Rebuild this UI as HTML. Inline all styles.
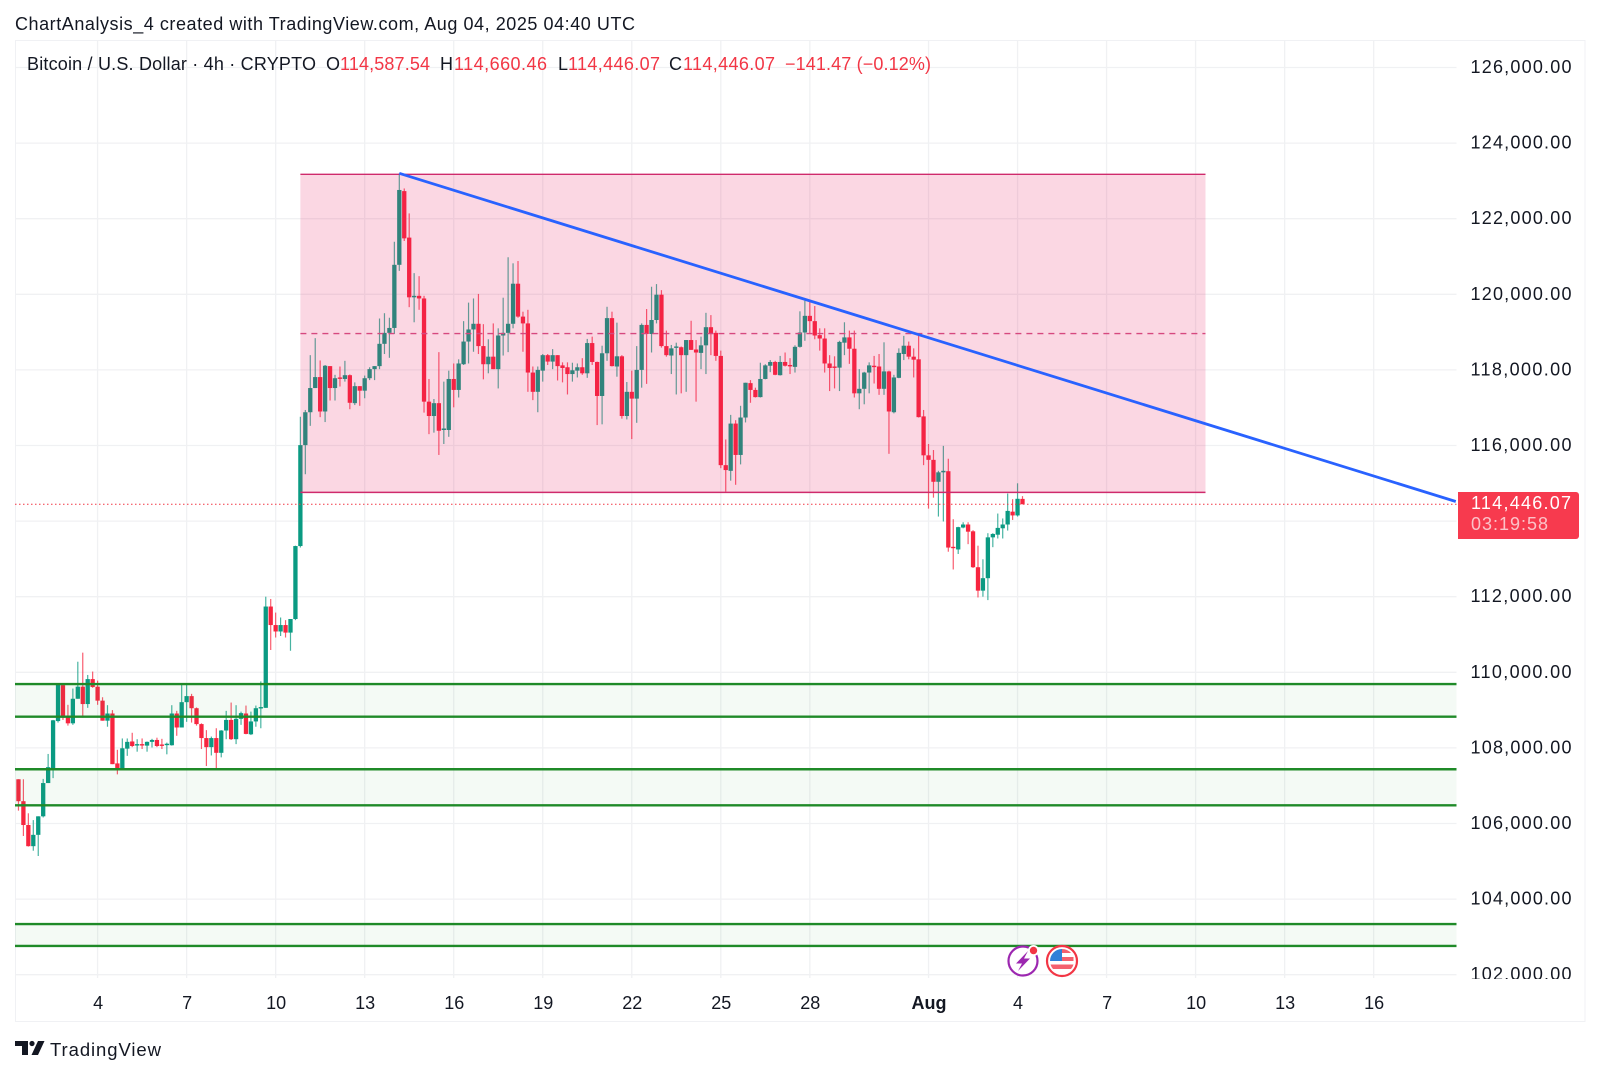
<!DOCTYPE html>
<html>
<head>
<meta charset="utf-8">
<title>Bitcoin / U.S. Dollar 4h chart</title>
<style>
html,body{margin:0;padding:0;background:#fff;}
svg{display:block;}
text{font-family:"Liberation Sans",sans-serif;fill:#131722;}
</style>
</head>
<body>
<svg id="chart" xmlns="http://www.w3.org/2000/svg" width="1600" height="1074" viewBox="0 0 1600 1074">
  <defs>
    <clipPath id="plot-clip"><rect x="15" y="40" width="1441.5" height="938"></rect></clipPath>
    <clipPath id="axis-clip"><rect x="1458" y="40" width="127" height="939"></rect></clipPath>
  </defs>
  <rect x="0" y="0" width="1600" height="1074" fill="#ffffff"></rect>
  <text x="15" y="30" font-size="18" textLength="620" lengthAdjust="spacing">ChartAnalysis_4 created with TradingView.com, Aug 04, 2025 04:40 UTC</text>
  <rect x="15.5" y="40.5" width="1569.5" height="981" fill="none" stroke="#f0f1f4" stroke-width="1"></rect>
  <g id="grid"></g>
  <g id="plot" clip-path="url(#plot-clip)">
    <g id="candles"></g>
    <g id="overlays"></g>
  </g>
  <g id="y-axis" clip-path="url(#axis-clip)"></g>
  <g id="x-axis"></g>

  <g font-size="18">
    <text x="27" y="70" textLength="289" lengthAdjust="spacing">Bitcoin / U.S. Dollar · 4h · CRYPTO</text>
    <text x="326" y="70">O</text>
    <text x="340" y="70" textLength="90" lengthAdjust="spacing" style="fill:#f23645">114,587.54</text>
    <text x="440" y="70">H</text>
    <text x="454" y="70" textLength="93" lengthAdjust="spacing" style="fill:#f23645">114,660.46</text>
    <text x="558" y="70">L</text>
    <text x="568" y="70" textLength="92" lengthAdjust="spacing" style="fill:#f23645">114,446.07</text>
    <text x="669" y="70">C</text>
    <text x="683" y="70" textLength="92" lengthAdjust="spacing" style="fill:#f23645">114,446.07</text>
    <text x="785" y="70" textLength="146" lengthAdjust="spacing" style="fill:#f23645">−141.47 (−0.12%)</text>
  </g>

  <g>
    <path d="M1458 492H1576a3 3 0 0 1 3 3V536a3 3 0 0 1 -3 3H1458Z" fill="#f73a4e"></path>
    <text x="1471" y="509" font-size="18" textLength="100" lengthAdjust="spacing" style="fill:#ffffff">114,446.07</text>
    <text x="1471" y="530" font-size="18" textLength="77" lengthAdjust="spacing" style="fill:#fbc2c8">03:19:58</text>
  </g>

  <g>
    <circle cx="1023" cy="961" r="14.5" fill="#ffffff" stroke="#9c27b0" stroke-width="2.2"></circle>
    <path d="M1028 951L1016 963.5H1022L1018 971L1030 958.5H1024Z" fill="#9c27b0"></path>
    <circle cx="1033.5" cy="950.5" r="5.5" fill="#ffffff"></circle>
    <circle cx="1033.5" cy="950.5" r="3.7" fill="#f23645"></circle>
  </g>
  <g>
    <circle cx="1062" cy="961" r="15" fill="#ffffff" stroke="#f23645" stroke-width="2.2"></circle>
    <circle cx="1062" cy="961" r="12" fill="#ffffff"></circle>
    <path d="M1062 949a12 12 0 0 1 9 4H1062ZM1062 957H1073.5V961H1062ZM1050.5 964.5H1073.5a12 12 0 0 1 -2.5 4.5H1053a12 12 0 0 1 -2.5 -4.5Z" fill="#f4606e"></path>
    <path d="M1062 949V961H1050a12 12 0 0 1 12 -12Z" fill="#2f80d8"></path>
  </g>

  <g>
    <path d="M15 1041H28V1055H22V1046H15Z" fill="#131722"></path>
    <circle cx="32" cy="1043.5" r="2.6" fill="#131722"></circle>
    <path d="M38 1041H44.5L38 1055H31.5Z" fill="#131722"></path>
    <text x="50" y="1056" font-size="18.5" textLength="111" lengthAdjust="spacing">TradingView</text>
  </g>
</svg>

<script>
const opens = [
107170,106590,105960,105400,105700,106190,107070,107460,108710,109660,
108850,108650,109300,109620,109160,109820,109620,109250,108720,108910,
107590,107460,107980,108170,108070,108100,108060,108160,108210,108090,
108090,108070,108910,108540,109210,109370,109050,108630,108260,108020,
108260,107870,108460,108740,108230,108770,108910,108360,108700,109050,
109060,111740,111250,111080,111250,111050,111410,113340,116010,116880,
117520,117810,116900,118100,117520,117800,117760,117860,117120,117570,
117450,117780,118020,118100,118690,118980,119110,120780,122730,121500,
119920,119960,119890,117160,116780,117120,116410,116410,117760,117470,
118150,118750,119070,119220,118630,118150,118350,118020,118910,118980,
119220,120280,119410,119230,117930,117420,117980,118390,118220,118390,
118120,118070,117890,117980,118070,117910,118710,118210,117310,118440,
119370,118090,118360,116780,117420,117240,118000,119190,118950,119320,
119990,118630,118380,118600,118600,118390,118790,118540,118450,118650,
119130,118980,118370,115480,115330,116580,115750,116740,117650,117470,
117280,117760,118110,118210,117860,118210,118130,118080,118610,118990,
119430,119290,118920,118830,118170,118090,118060,118720,118860,118560,
117380,117500,117930,118110,118090,117500,117960,116880,117790,118420,
118640,118350,118280,116770,115740,115620,115040,115290,115320,113320,
113250,113830,113910,113730,112780,112160,112490,113570,113640,113810,
113910,114250,114150,114587.54];
const closes = [
106590,105960,105400,105700,106190,107070,107490,108730,109690,108800,
108650,109300,109620,109160,109820,109610,109250,108720,108910,107570,
107460,107990,108160,108050,108100,108070,108160,108210,108050,108060,
108110,108910,108540,109210,109370,109050,108630,108260,108020,108260,
107870,108460,108740,108230,108770,108920,108370,108700,109050,109080,
111740,111250,111080,111250,111050,111410,113340,116010,116880,117520,
117810,116900,118110,117520,117780,117770,117860,117130,117570,117450,
117780,118020,118100,118690,118980,119110,120780,122760,121480,119920,
119960,119890,117160,116780,117120,116390,116450,117760,117470,118170,
118750,119070,119220,118630,118150,118350,118020,118910,118980,119220,
120280,119410,119230,117930,117420,118000,118390,118220,118390,118100,
118050,117890,117990,118070,117910,118710,118210,117310,118440,119370,
118100,118360,116780,117420,117240,118000,119190,118950,119320,119990,
118630,118390,118570,118620,118390,118790,118530,118460,118650,119130,
118960,118370,115480,115350,116580,115750,116740,117660,117470,117280,
117760,118120,118210,117870,118210,118110,118100,118610,118990,119430,
119290,118910,118830,118170,118050,118060,118740,118860,118560,117380,
117500,117930,118120,118090,117500,117960,116900,117800,118450,118640,
118350,118270,116750,115740,115620,115040,115290,115330,113300,113290,
113840,113910,113720,112780,112160,112490,113570,113660,113820,113910,
114270,114150,114590,114446.07];
const highs = [
107170,107170,106270,106090,106190,107180,107840,108740,109690,109690,
109140,109570,110280,110520,109930,110020,109780,109340,109130,109000,
107950,108250,108250,108400,108230,108250,108170,108240,108270,108240,
108140,109130,108980,109690,109690,109430,109070,108650,108470,108300,
108520,108470,108980,109200,109130,108960,109120,108960,109120,109760,
112000,111940,111580,111450,111380,111410,113350,116760,116940,118390,
118840,118250,118130,118100,117870,118090,118240,117880,117670,117570,
117850,118070,118100,119360,119500,119380,121390,123200,122800,122140,
120560,120480,119960,117760,117230,118470,117690,117980,118170,118280,
119290,119780,119890,120010,119210,118810,119230,119100,119910,120980,
120820,120880,119540,119590,118090,118090,118420,118420,118550,118390,
118200,118200,118190,118170,118310,118820,118880,118220,118640,119670,
119540,119250,118390,117680,117980,118630,119230,119610,120200,120270,
120110,119040,118660,118720,118620,118790,119300,118790,118880,119510,
119450,119040,118510,116160,116810,116670,117050,117660,117730,117530,
118190,118150,118260,118240,118370,118460,118310,118650,119550,119830,
119830,119690,119100,119100,118390,118360,118770,119260,119040,119040,
118020,117950,118200,118370,118420,118730,117980,117870,118570,118900,
118750,118570,118970,116940,116040,115880,115330,115990,115650,114050,
113850,113970,113970,113760,113350,112990,113680,113680,114200,114070,
114730,114580,115000,114660.46];
const lows = [
106340,105670,105390,105280,105140,106160,107070,107200,108670,108740,
108590,108610,109300,108800,109060,109590,109140,108720,108560,107570,
107300,107460,107790,108020,107900,107970,107900,108010,108020,107970,
107830,108060,108320,108540,108690,108670,108590,107970,107520,107800,
107450,107750,108230,108210,108100,108610,108360,108340,108560,108520,
109060,110590,110920,110960,110920,110570,111380,113300,115240,116520,
117520,116750,116620,117190,117190,117560,117690,116960,117070,117050,
117250,117730,117730,118020,118420,118320,118950,120620,121410,119660,
119260,119590,116870,116300,116340,115750,116040,116230,117010,117270,
118130,118170,118480,118420,117750,117910,118020,117510,118380,118470,
119100,119380,118480,117420,117200,116880,117690,118130,118020,117720,
117670,117350,117690,117800,117870,117790,118130,116540,116560,118240,
118090,117820,116710,116690,116170,116600,117530,117630,118460,119230,
118590,118350,117890,117350,117380,117420,118530,117160,118020,117890,
118390,118240,115400,114780,115070,114960,115500,116610,117130,117270,
117270,117750,117940,117860,117850,118090,117890,117930,118590,118770,
118970,118810,118510,117930,117440,117510,117440,118390,118160,117270,
116960,117090,117380,117640,117340,117340,115780,116850,117780,118260,
118280,117800,116740,115480,114330,114620,114120,113990,113190,112720,
113130,113810,113390,112760,111980,112000,111910,113310,113540,113540,
113750,114030,114120,114446.07];

const priceTicks = [126000,124000,122000,120000,118000,116000,114000,112000,110000,108000,106000,104000,102000];
const timeTickDays = [0,3,6,9,12,15,18,21,24,28,31,34,37,40,43];
const timeTickLabels = ['4','7','10','13','16','19','22','25','28','Aug','4','7','10','13','16'];
const lastPrice = 114446.07;
const zoneUppers = [109690,107435,103340];
const zoneLowers = [108825,106480,102760];
const rangeUpper = 123175;
const rangeLower = 114760;
const rangeMiddle = 118960;
const rangeBars = [57,240];
const trendBars = [77,290.6];
const trendPrices = [123200,114518];

const SVGNS = 'http://www.w3.org/2000/svg';
const BARS_BEFORE_FIRST_TICK = 16;
const BARS_PER_DAY = 6;
function xBar(i){ return 18.46 + 4.946 * i; }
function xDay(d){ return xBar(BARS_BEFORE_FIRST_TICK + BARS_PER_DAY * d); }
function yPrice(p){ return 67.5 + (126000 - p) * 0.0378; }
function make(tag, attrs, parent){
  const el = document.createElementNS(SVGNS, tag);
  for (const k in attrs) el.setAttribute(k, attrs[k]);
  parent.appendChild(el);
  return el;
}
function fmt(p){ return p.toLocaleString('en-US',{minimumFractionDigits:2,maximumFractionDigits:2}); }

const grid = document.getElementById('grid');
const xAxis = document.getElementById('x-axis');
const yAxis = document.getElementById('y-axis');
const candlesG = document.getElementById('candles');
const overlays = document.getElementById('overlays');

priceTicks.forEach(function(p){
  const y = yPrice(p);
  const line = make('line',{x1:15,x2:1456.5,y1:y,y2:y,stroke:'#f0f1f3','stroke-width':1.3},grid);
  
  
  const label = make('text',{x:1470.5,y:y+5.5,'font-size':18,textLength:101,lengthAdjust:'spacing'},yAxis);
  
  
  label.textContent = fmt(p);
});

timeTickDays.forEach(function(d,idx){
  const x = xDay(d);
  const line = make('line',{x1:x,x2:x,y1:40,y2:978,stroke:'#f0f1f3','stroke-width':1.3},grid);
  
  
  const isMonth = timeTickLabels[idx] === 'Aug';
  const label = make('text',{x:x+0.5,y:1009,'font-size':18,'text-anchor':'middle','font-weight':isMonth?'bold':'normal'},xAxis);
  
  
  label.textContent = timeTickLabels[idx];
});

opens.forEach(function(o,i){
  const c = closes[i];
  const color = c >= o ? '#0a9a82' : '#f7253f';
  const x = xBar(i);
  const g = make('g',{},candlesG);
  
  
  const wick = make('line',{x1:x,x2:x,y1:yPrice(highs[i]),y2:yPrice(lows[i]),stroke:color,'stroke-width':1.2,'stroke-opacity':0.75},g);
  
  
  const top = yPrice(Math.max(o,c));
  const h = Math.max(1.4, yPrice(Math.min(o,c)) - top);
  const body = make('rect',{x:x-2.15,y:top,width:4.3,height:h,fill:color},g);
  
  
});

zoneUppers.forEach(function(u,i){
  const l = zoneLowers[i];
  const fill = make('rect',{x:15,y:yPrice(u),width:1442,height:yPrice(l)-yPrice(u),fill:'#4caf50','fill-opacity':0.06},overlays);
  
  
  [u,l].forEach(function(v){
    const line = make('line',{x1:15,x2:1457,y1:yPrice(v),y2:yPrice(v),stroke:'#1f8a28','stroke-width':2.4},overlays);
    
    
  });
});

const rx1 = xBar(rangeBars[0]);
const rx2 = xBar(rangeBars[1]);
const rangeFill = make('rect',{x:rx1,y:yPrice(rangeUpper),width:rx2-rx1,height:yPrice(rangeLower)-yPrice(rangeUpper),fill:'#e91e63','fill-opacity':0.175},overlays);


const rangeTop = make('line',{x1:rx1,x2:rx2,y1:yPrice(rangeUpper),y2:yPrice(rangeUpper),stroke:'#cf2a6c','stroke-width':1.4},overlays);


const rangeBottom = make('line',{x1:rx1,x2:rx2,y1:yPrice(rangeLower),y2:yPrice(rangeLower),stroke:'#cf2a6c','stroke-width':1.4},overlays);


const rangeMid = make('line',{x1:rx1,x2:rx2,y1:yPrice(rangeMiddle),y2:yPrice(rangeMiddle),stroke:'#d6487f','stroke-width':1.4,'stroke-dasharray':'6 5'},overlays);



const priceLine = make('line',{x1:15,x2:1457,y1:yPrice(lastPrice),y2:yPrice(lastPrice),stroke:'#f23645','stroke-width':1,'stroke-dasharray':'1.5 2.5'},overlays);



const trend = make('line',{x1:xBar(trendBars[0]),y1:yPrice(trendPrices[0]),x2:xBar(trendBars[1]),y2:yPrice(trendPrices[1]),stroke:'#2962ff','stroke-width':2.8},overlays);


</script>
</body>
</html>
